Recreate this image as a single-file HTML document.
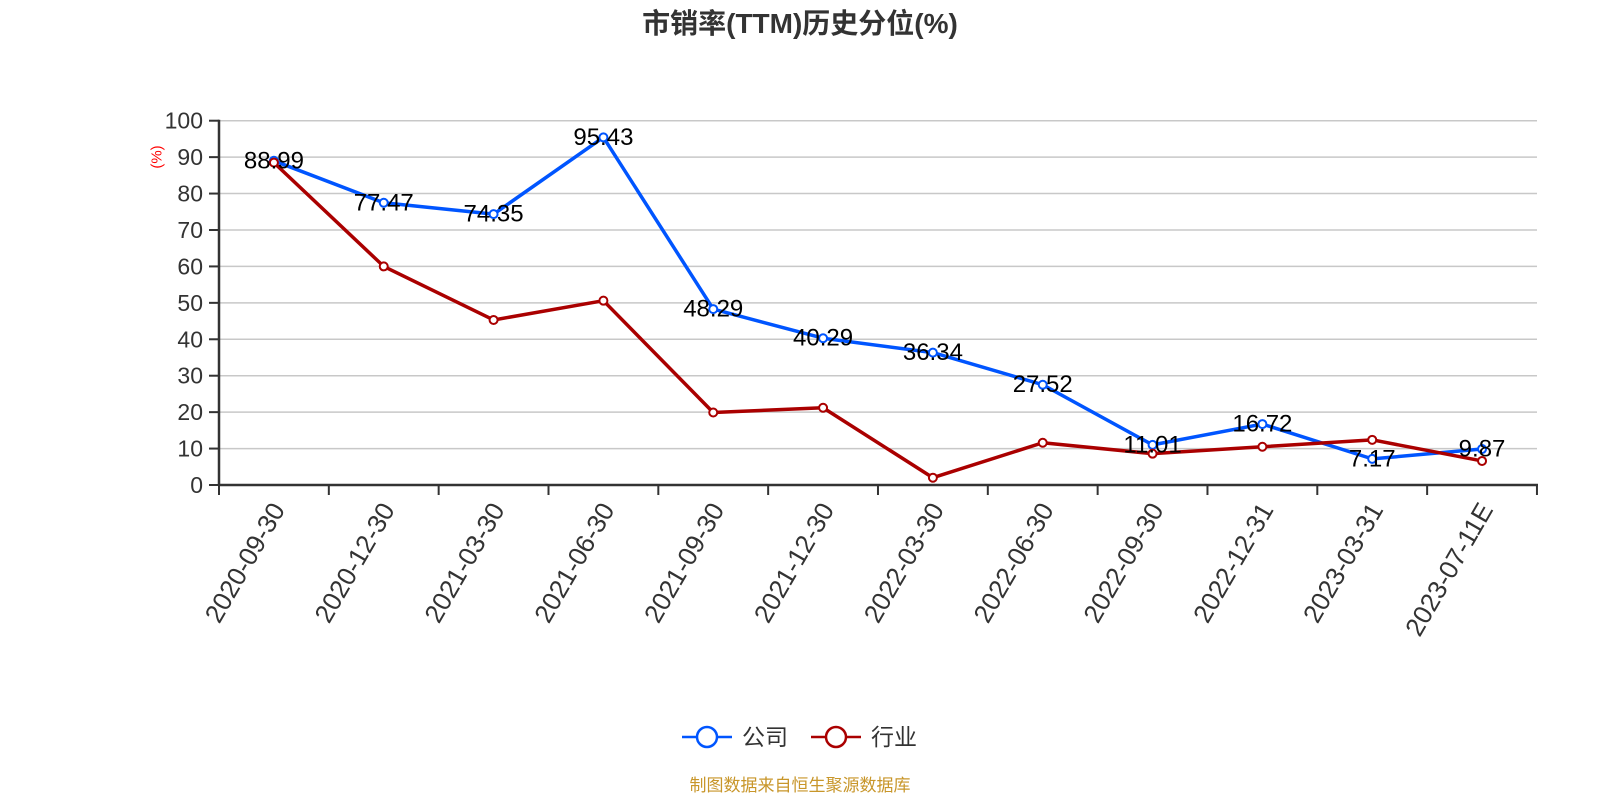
<!DOCTYPE html>
<html><head><meta charset="utf-8"><style>
html,body{margin:0;padding:0;background:#fff;width:1600px;height:800px;overflow:hidden}
text{font-family:"Liberation Sans","Noto Sans CJK SC",sans-serif}
</style></head><body>
<svg width="1600" height="800" xmlns="http://www.w3.org/2000/svg">
<text x="800" y="33" text-anchor="middle" font-size="28" font-weight="bold" fill="#333">市销率(TTM)历史分位(%)</text>
<g id="grid" stroke="#c8c8c8" stroke-width="1.5"></g>
<g id="ax"></g>
<text transform="translate(157,157) rotate(-90)" text-anchor="middle" dominant-baseline="central" font-size="15" fill="#f00">(%)</text>
<g id="ser"></g>
<g transform="translate(0,737)">
<line x1="682" y1="0" x2="732" y2="0" stroke="#0055ff" stroke-width="2.5"/>
<circle cx="707" cy="0" r="10" fill="#fff" stroke="#0055ff" stroke-width="2.5"/>
<text x="742" y="0" dominant-baseline="central" font-size="23" fill="#333">公司</text>
<line x1="811" y1="0" x2="861" y2="0" stroke="#aa0000" stroke-width="2.5"/>
<circle cx="836" cy="0" r="10" fill="#fff" stroke="#aa0000" stroke-width="2.5"/>
<text x="871" y="0" dominant-baseline="central" font-size="23" fill="#333">行业</text>
</g>
<text x="800" y="791" text-anchor="middle" font-size="17" fill="#c8962a">制图数据来自恒生聚源数据库</text>
</svg>
<script>
const ns="http://www.w3.org/2000/svg";
function el(p,t,a,txt){const e=document.createElementNS(ns,t);for(const k in a)e.setAttribute(k,a[k]);if(txt!==undefined)e.textContent=txt;document.getElementById(p).appendChild(e);return e;}
const y0=485,s=3.643,x0=219,step=109.83;
const Y=v=>y0-v*s, X=i=>x0+step*(i+0.5);
for(let v=10;v<=100;v+=10){el('grid','line',{x1:x0,x2:1537,y1:Y(v),y2:Y(v)});}
for(let v=0;v<=100;v+=10){el('ax','line',{x1:209,x2:x0,y1:Y(v),y2:Y(v),stroke:'#333','stroke-width':2});
el('ax','text',{x:203,y:Y(v),'text-anchor':'end','dominant-baseline':'central','font-size':23,fill:'#333'},v);}
el('ax','line',{x1:x0,x2:x0,y1:Y(100)-1,y2:y0+1,stroke:'#333','stroke-width':2.5});
el('ax','line',{x1:x0,x2:1538,y1:y0,y2:y0,stroke:'#333','stroke-width':2.5});
const cats=["2020-09-30","2020-12-30","2021-03-30","2021-06-30","2021-09-30","2021-12-30","2022-03-30","2022-06-30","2022-09-30","2022-12-31","2023-03-31","2023-07-11E"];
for(let i=0;i<=12;i++)el('ax','line',{x1:x0+step*i,x2:x0+step*i,y1:y0,y2:y0+10,stroke:'#333','stroke-width':2});
cats.forEach((c,i)=>el('ax','text',{transform:`translate(${X(i)+4},${y0+20}) rotate(-60)`,'text-anchor':'end','dominant-baseline':'central','font-size':26,fill:'#333'},c));
const comp=[88.99,77.47,74.35,95.43,48.29,40.29,36.34,27.52,11.01,16.72,7.17,9.87];
const ind=[88.5,60,45.3,50.6,19.9,21.2,2,11.6,8.6,10.5,12.4,6.6];
function series(d,c){el('ser','polyline',{points:d.map((v,i)=>X(i)+','+Y(v)).join(' '),fill:'none',stroke:c,'stroke-width':3.5,'stroke-linejoin':'round'});
d.forEach((v,i)=>el('ser','circle',{cx:X(i),cy:Y(v),r:4,fill:'#fff',stroke:c,'stroke-width':2}));}
series(comp,'#0055ff');series(ind,'#aa0000');
comp.forEach((v,i)=>el('ser','text',{x:X(i),y:Y(v),'text-anchor':'middle','dominant-baseline':'central','font-size':24,fill:'#000'},v.toFixed(2)));
</script>
</body></html>
